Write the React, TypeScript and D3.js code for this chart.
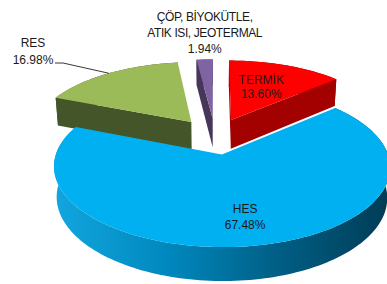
import React from "react";
import * as d3 from "d3";

// energy mix shares (percent)
const categories = ["TERMİK", "HES", "RES", "ÇÖP, BİYOKÜTLE, ATIK ISI, JEOTERMAL"];
const shares = [13.6, 67.48, 16.98, 1.94];
const shareLabels = ["13.60%", "67.48%", "16.98%", "1.94%"];

const topColors = ["#ff0000", "#00b0f0", "#9bbb59", "#8064a2"];
const sideColors = [
  ["#a30000", "#8c0000"],
  ["#12a5de", "#0089bf", "#005f86", "#003d56"],
  ["#45552a", "#3b4921"],
  ["#45365a", "#382b49"],
];

const W = 387;
const H = 284;

// fake 3d camera
const cx = 215;
const cy = 136;
const S = 160; // radius in px at pie center
const K = 6; // camera distance in radii
const tilt = (27 * Math.PI) / 180;
const explode = 0.25;
const depth = 0.21;

const project = (X: number, Z: number, Y: number): [number, number] => {
  const yc = Y * Math.cos(tilt) + Z * Math.sin(tilt);
  const zc = K + Z * Math.cos(tilt) - Y * Math.sin(tilt);
  return [cx + (S * K * X) / zc, cy - (S * K * yc) / zc];
};

const line = d3.line<[number, number]>();
const poly = (pts: [number, number][]) => line(pts) + "Z";

const signedArea = (pts: [number, number][]) =>
  d3.sum(pts, (p, i) => {
    const q = pts[(i + 1) % pts.length];
    return p[0] * q[1] - q[0] * p[1];
  });

const App = () => {
  const arcs = d3.pie<number>().sort(null).value((d) => d)(shares);

  const slices = arcs.map((a, i) => {
    const mid = (a.startAngle + a.endAngle) / 2;
    const ox = explode * Math.sin(mid);
    const oz = explode * Math.cos(mid);
    const rim = (t: number, y: number) => project(ox + Math.sin(t), oz + Math.cos(t), y);
    const n = Math.max(2, Math.ceil((a.endAngle - a.startAngle) / (Math.PI / 120)));
    const angles = d3.range(n + 1).map((k) => a.startAngle + ((a.endAngle - a.startAngle) * k) / n);
    const topArc = angles.map((t) => rim(t, 0));
    const botArc = angles.map((t) => rim(t, -depth));
    const apexTop = project(ox, oz, 0);
    const apexBot = project(ox, oz, -depth);
    const startFace: [number, number][] = [apexTop, topArc[0], botArc[0], apexBot];
    const endFace: [number, number][] = [apexTop, topArc[n], botArc[n], apexBot];
    return {
      i,
      mid,
      ox,
      oz,
      rim,
      top: poly([apexTop, ...topArc]),
      wall: poly([...topArc, ...botArc.slice().reverse()]),
      startFace: signedArea(startFace) < 0 ? poly(startFace) : null,
      endFace: signedArea(endFace) > 0 ? poly(endFace) : null,
    };
  });

  // back to front
  const order = slices.slice().sort((a, b) => b.oz - a.oz);

  const inside = (s: (typeof slices)[number], r: number) =>
    project(s.ox + r * Math.sin(s.mid), s.oz + r * Math.cos(s.mid), 0);

  const termik = inside(slices[0], 0.52);
  const hes = inside(slices[1], 0.72);
  const resRim = slices[2].rim(slices[2].mid, 0);
  const copRim = slices[3].rim(slices[3].mid, 0);

  const font = "'Liberation Sans', Arial, sans-serif";

  return (
    <svg width={W} height={H} style={{ position: "absolute", left: 0, top: 0 }}>
      <defs>
        {sideColors.map((cols, i) => (
          <linearGradient key={i} id={"side" + i} gradientUnits="userSpaceOnUse" x1={55} x2={387} y1={0} y2={0}>
            {cols.map((c, j) => (
              <stop key={j} offset={j / (cols.length - 1)} stopColor={c} />
            ))}
          </linearGradient>
        ))}
      </defs>
      <rect width={W} height={H} fill="#fff" />
      {order.map((s) => (
        <g key={s.i}>
          <path d={s.wall} fill={`url(#side${s.i})`} />
          {s.startFace && <path d={s.startFace} fill={sideColors[s.i][s.i === 1 ? 2 : 0]} />}
          {s.endFace && <path d={s.endFace} fill={sideColors[s.i][s.i === 1 ? 2 : 0]} />}
          <path d={s.top} fill={topColors[s.i]} />
        </g>
      ))}

      <g fontFamily={font} fontSize={12} fill="#1a1a1a">
        <text x={termik[0]} y={termik[1] - 6} textAnchor="middle">
          <tspan x={termik[0]} dy={0}>{categories[0]}</tspan>
          <tspan x={termik[0]} dy={14}>{shareLabels[0]}</tspan>
        </text>
        <text x={hes[0]} y={hes[1] - 4} textAnchor="middle">
          <tspan x={hes[0]} dy={0}>{categories[1]}</tspan>
          <tspan x={hes[0]} dy={16}>{shareLabels[1]}</tspan>
        </text>
        <text x={33} y={47} textAnchor="middle">
          <tspan x={33} dy={0}>{categories[2]}</tspan>
          <tspan x={33} dy={17}>{shareLabels[2]}</tspan>
        </text>
        <text x={copRim[0]} y={copRim[1] - 39} textAnchor="middle" letterSpacing={-0.4}>
          <tspan x={copRim[0]} dy={0}>ÇÖP, BİYOKÜTLE,</tspan>
          <tspan x={copRim[0]} dy={16}>ATIK ISI, JEOTERMAL</tspan>
          <tspan x={copRim[0]} dy={16} letterSpacing={0}>{shareLabels[3]}</tspan>
        </text>
      </g>
      <path d={line([[55, 63], [63, 63], resRim]) ?? ""} fill="none" stroke="#222" strokeWidth={0.9} />
    </svg>
  );
};

export default App;
